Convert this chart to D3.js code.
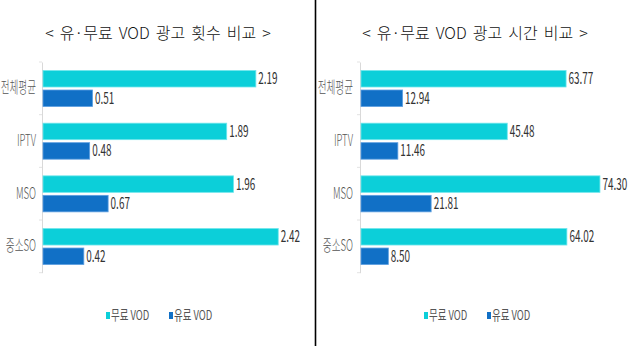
<!DOCTYPE html>
<html>
<head>
<meta charset="utf-8">
<script src="https://cdn.jsdelivr.net/npm/d3@7"></script>
<style>
  html, body { margin: 0; padding: 0; background: #fff; }
  svg { display: block; }
  text { font-family: "Noto Sans CJK KR", "Noto Sans", sans-serif; }
</style>
</head>
<body>
<svg id="chart" width="631" height="346"></svg>
<script>
// Categories and series
const categories = ["전체평균", "IPTV", "MSO", "중소SO"];
const seriesNames = ["무료 VOD", "유료 VOD"];
const seriesKeys = ["free", "paid"];

// Ad count per VOD type
const countFree = [2.19, 1.89, 1.96, 2.42];
const countPaid = [0.51, 0.48, 0.67, 0.42];

// Ad time per VOD type
const timeFree = [63.77, 45.48, 74.30, 64.02];
const timePaid = [12.94, 11.46, 21.81, 8.50];

const titles = ["< 유·무료 VOD 광고 횟수 비교 >", "< 유·무료 VOD 광고 시간 비교 >"];

const colors = { free: "#0ccfd9", paid: "#1170c6" };
const strokes = { free: "#6fe6ec", paid: "#5d9fe0" };

const svg = d3.select("#chart");

// Panel divider
svg.append("line")
  .attr("x1", 315.5).attr("x2", 315.5)
  .attr("y1", 0).attr("y2", 346)
  .attr("stroke", "#000").attr("stroke-width", 1.6);

function drawPanel(opt) {
  const g = svg.append("g");

  // Title
  g.append("text")
    .attr("x", opt.titleX).attr("y", 39)
    .attr("text-anchor", "middle")
    .attr("font-size", 16)
    .attr("font-weight", 300)
    .attr("word-spacing", 2.5)
    .attr("fill", "#111")
    .text(opt.title);

  const y = d3.scaleBand().domain(categories).range([62, 272.7]).padding(0);
  const yInner = d3.scaleBand().domain(seriesKeys)
    .range([8.5, 44.5]).paddingInner(0.154).paddingOuter(0);
  const x = d3.scaleLinear().domain(opt.domain).range([opt.x0, opt.x1]);

  // Category axis
  const axis = d3.axisLeft(y).tickSize(0).tickFormat("");
  const axG = g.append("g").attr("transform", `translate(${opt.x0 - 1},0)`).call(axis);
  axG.select(".domain").attr("stroke", "#d9d9d9");
  // boundary ticks
  g.selectAll(".btick")
    .data(categories.map(c => y(c)).concat([y.range()[1]]))
    .join("line")
    .attr("x1", opt.x0 - 4).attr("x2", opt.x0 - 1)
    .attr("y1", d => d).attr("y2", d => d)
    .attr("stroke", "#e3e3e3");

  // Category labels (narrow lettering)
  g.selectAll(".cat")
    .data(categories)
    .join("text")
    .attr("transform", d => `translate(${opt.labelX},${y(d) + y.bandwidth() / 2 + 5}) scale(0.6,1)`)
    .attr("text-anchor", "end")
    .attr("font-size", 16)
    .attr("font-weight", 300)
    .attr("fill", "#555")
    .text(d => d);

  const rows = categories.map((c, i) => ({
    cat: c,
    vals: [{ key: "free", v: opt.free[i] }, { key: "paid", v: opt.paid[i] }]
  }));

  const grp = g.selectAll(".grp")
    .data(rows)
    .join("g")
    .attr("transform", d => `translate(0,${y(d.cat)})`);

  grp.selectAll("rect")
    .data(d => d.vals)
    .join("rect")
    .attr("x", x(0))
    .attr("y", d => yInner(d.key))
    .attr("width", d => x(d.v) - x(0))
    .attr("height", yInner.bandwidth())
    .attr("fill", d => colors[d.key])
    .attr("stroke", d => strokes[d.key])
    .attr("stroke-width", 0.8);

  grp.selectAll(".val")
    .data(d => d.vals)
    .join("text")
    .attr("transform", d => `translate(${x(d.v) + 2.5},${yInner(d.key) + yInner.bandwidth() / 2 + 5.5}) scale(0.62,1)`)
    .attr("font-size", 16)
    .attr("fill", "#333")
    .text(d => d.v.toFixed(2));

  // Legend
  const lg = g.selectAll(".lg")
    .data(seriesKeys)
    .join("g")
    .attr("transform", (d, i) => `translate(${opt.legendX[i]},312)`);
  lg.append("rect")
    .attr("x", 0).attr("y", 0).attr("width", 4).attr("height", 7)
    .attr("fill", d => colors[d]);
  lg.append("text")
    .attr("transform", "translate(5,8) scale(0.7,1)")
    .attr("font-size", 13.5)
    .attr("fill", "#555")
    .text((d, i) => seriesNames[i]);
}

drawPanel({
  title: titles[0], titleX: 158,
  domain: [0, 2.5], x0: 43, x1: 43 + 97.2 * 2.5,
  labelX: 36,
  free: countFree, paid: countPaid,
  legendX: [106, 169]
});

drawPanel({
  title: titles[1], titleX: 475,
  domain: [0, 80], x0: 361, x1: 361 + 3.216 * 80,
  labelX: 353,
  free: timeFree, paid: timePaid,
  legendX: [424, 487]
});
</script>
</body>
</html>
